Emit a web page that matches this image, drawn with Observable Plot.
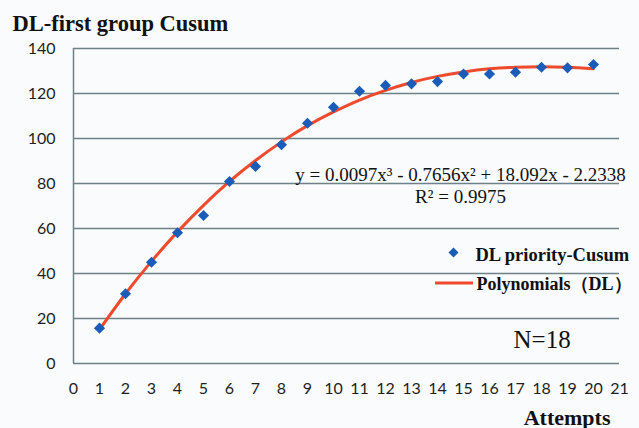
<!DOCTYPE html>
<html>
<head>
<meta charset="utf-8">
<script src="https://cdn.jsdelivr.net/npm/d3@7"></script>
<script src="https://cdn.jsdelivr.net/npm/@observablehq/plot@0.6"></script>
<style>
  html, body { margin: 0; padding: 0; background: #f9fbfd; }
  #chart { width: 639px; height: 428px; }
</style>
</head>
<body>
<div id="chart"></div>
<script>
// ---- data ----
const attempts = [1, 2, 3, 4, 5, 6, 7, 8, 9, 10, 11, 12, 13, 14, 15, 16, 17, 18, 19, 20];
const cusum = [15.7, 31.0, 45.0, 58.1, 65.8, 80.9, 87.6, 97.2, 106.8, 113.9, 121.0, 123.6, 124.3, 125.3, 128.7, 128.7, 129.5, 131.7, 131.4, 132.9];
const trend = [15.1, 31.0, 45.4, 58.5, 70.3, 80.9, 90.2, 98.5, 105.7, 111.8, 117.1, 121.4, 124.9, 127.6, 129.6, 131.0, 131.7, 131.9, 131.7, 131.0];
const xTicks = d3.range(0, 22);
const yTicks = [0, 20, 40, 60, 80, 100, 120, 140];

const titleText = "DL-first group Cusum";
const xLabel = "Attempts";
const equation = "y = 0.0097x\u00b3 - 0.7656x\u00b2 + 18.092x - 2.2338";
const rSquared = "R\u00b2 = 0.9975";
const legendPoints = "DL priority-Cusum";
const legendLine = "Polynomials\uff08DL\uff09";
const nText = "N=18";

const points = attempts.map((a, i) => ({x: a, y: cusum[i]}));
const curve = attempts.map((a, i) => ({x: a, y: trend[i]}));

const serif = "'Liberation Serif', 'Times New Roman', serif";
const sans = "Lato, 'Open Sans', sans-serif";
const gridColor = "#6d8187";
const blue = "#1b5cb8";
const red = "#ee4a2b";

const chart = Plot.plot({
  width: 639,
  height: 428,
  marginLeft: 73,
  marginRight: 20,
  marginTop: 48,
  marginBottom: 65,
  style: {background: "#f9fbfd", overflow: "visible"},
  x: {domain: [0, 21]},
  y: {domain: [0, 140]},
  marks: [
    Plot.ruleY(yTicks, {stroke: gridColor, strokeWidth: 1.5}),
    Plot.ruleX([0], {stroke: gridColor, strokeWidth: 1.5}),
    Plot.axisY({ticks: yTicks, tickSize: 0, tickPadding: 18, fontSize: 16, fontFamily: sans, fill: "#1e1e1e", label: null}),
    Plot.axisX({ticks: xTicks, tickSize: 0, tickPadding: 19, fontSize: 16, fontFamily: sans, fill: "#1e1e1e", label: null}),
    Plot.line(curve, {x: "x", y: "y", stroke: red, strokeWidth: 3, curve: "natural"}),
    Plot.dot(points, {x: "x", y: "y", symbol: "diamond2", r: 5, fill: blue, stroke: null}),
    // title
    Plot.text([titleText], {frameAnchor: "top-left", dx: -61, dy: -18, textAnchor: "start", lineAnchor: "bottom", fontSize: 22.5, fontWeight: "bold", fontFamily: serif, fill: "#111"}),
    // x label
    Plot.text([xLabel], {frameAnchor: "bottom-right", dx: -9, dy: 61, textAnchor: "end", lineAnchor: "bottom", fontSize: 22, fontWeight: "bold", fontFamily: serif, fill: "#111"}),
    // equation and R²
    Plot.text([equation], {frameAnchor: "top-left", dx: 387, dy: 132, textAnchor: "middle", lineAnchor: "bottom", fontSize: 19, fontFamily: serif, fill: "#111"}),
    Plot.text([rSquared], {frameAnchor: "top-left", dx: 387, dy: 154, textAnchor: "middle", lineAnchor: "bottom", fontSize: 19, fontFamily: serif, fill: "#111"}),
    // legend
    Plot.dot([0], {frameAnchor: "top-left", dx: 380, dy: 204, symbol: "diamond2", r: 4.5, fill: blue, stroke: null}),
    Plot.text([legendPoints], {frameAnchor: "top-left", dx: 402, dy: 212, textAnchor: "start", lineAnchor: "bottom", fontSize: 18.5, fontWeight: "bold", fontFamily: serif, fill: "#111"}),
    Plot.text([legendLine], {frameAnchor: "top-left", dx: 403, dy: 241, textAnchor: "start", lineAnchor: "bottom", fontSize: 18, fontWeight: "bold", fontFamily: serif, fill: "#111"}),
    // N=18
    Plot.text([nText], {frameAnchor: "top-left", dx: 440, dy: 299, textAnchor: "start", lineAnchor: "bottom", fontSize: 25, fontFamily: serif, fill: "#111"})
  ]
});

// legend line swatch next to the second legend entry
const svg = d3.select(chart);
svg.append("line")
  .attr("x1", 435).attr("x2", 473)
  .attr("y1", 283).attr("y2", 283)
  .attr("stroke", red).attr("stroke-width", 3);

document.getElementById("chart").appendChild(chart);
</script>
</body>
</html>
